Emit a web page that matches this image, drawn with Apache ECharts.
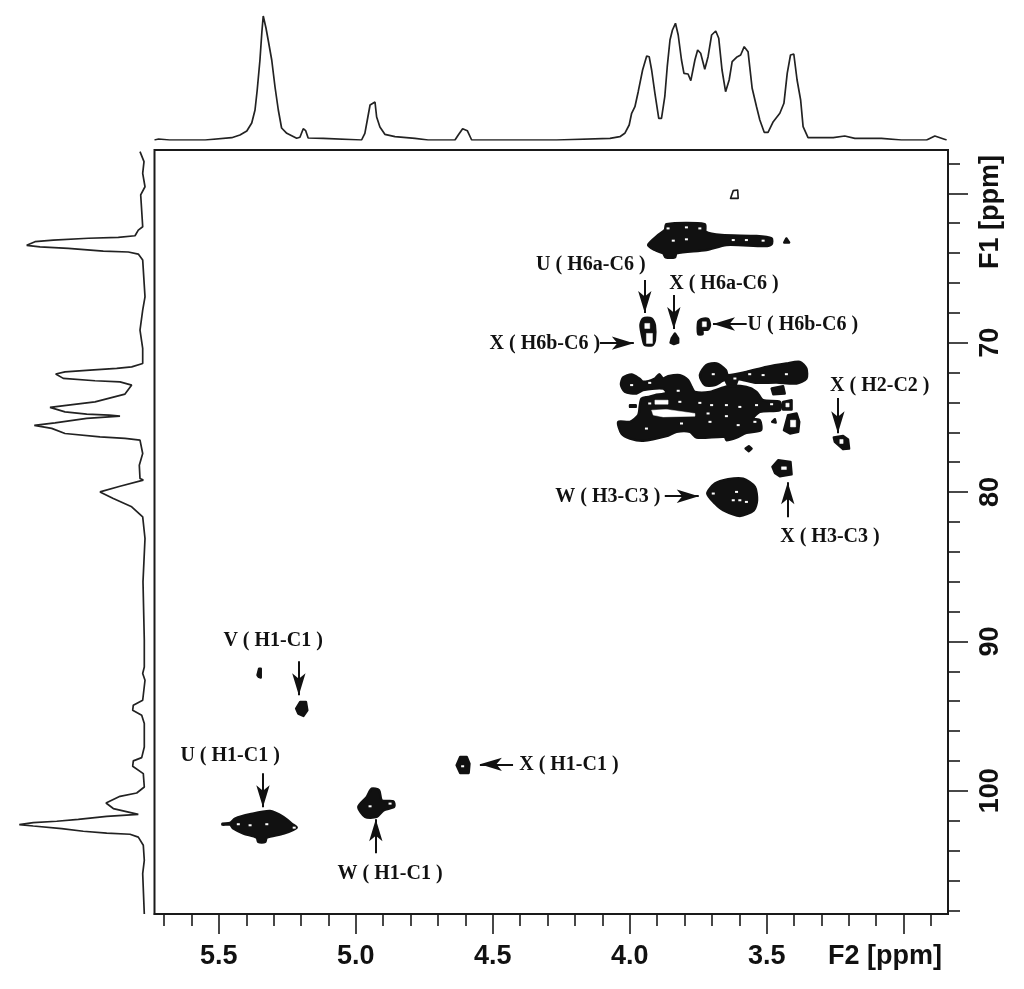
<!DOCTYPE html>
<html>
<head>
<meta charset="utf-8">
<style>html,body{margin:0;padding:0;background:#fff}#chart{width:1024px;height:989px}</style>
<script src="https://cdn.jsdelivr.net/npm/echarts@6/dist/echarts.min.js"></script>
</head>
<body>
<div id="chart"></div>
<script>
// axis ranges and ticks, ppm
const F2_RANGE = [2.838, 5.735];
const F1_RANGE = [57.1, 108.25];
const f2MajorTicks = [5.5, 5.0, 4.5, 4.0, 3.5, 3.0];
const f2MinorTicks = [5.7, 5.6, 5.4, 5.3, 5.2, 5.1, 4.9, 4.8, 4.7, 4.6, 4.4, 4.3, 4.2, 4.1, 3.9, 3.8, 3.7, 3.6, 3.4, 3.3, 3.2, 3.1, 2.9];
const f2Labels = [5.5, 5.0, 4.5, 4.0, 3.5];
const f1MajorTicks = [60, 70, 80, 90, 100];
const f1MinorTicks = [58, 62, 64, 66, 68, 72, 74, 76, 78, 82, 84, 86, 88, 92, 94, 96, 98, 102, 104, 106, 108];
const f1Labels = [70, 80, 90, 100];

// projection along F2 (top trace)
const topPpm = [5.735, 5.72, 5.68, 5.60, 5.597, 5.55, 5.453, 5.423, 5.398, 5.380, 5.368, 5.360, 5.350, 5.343, 5.338, 5.331, 5.328, 5.320, 5.307, 5.295, 5.283, 5.271, 5.252, 5.216, 5.204, 5.192, 5.183, 5.174, 5.119, 5.113, 4.979, 4.967, 4.958, 4.948, 4.930, 4.924, 4.912, 4.894, 4.857, 4.784, 4.736, 4.638, 4.626, 4.610, 4.593, 4.577, 4.449, 4.267, 4.072, 4.036, 4.018, 4.002, 3.993, 3.981, 3.969, 3.953, 3.938, 3.929, 3.920, 3.908, 3.894, 3.884, 3.872, 3.863, 3.853, 3.844, 3.833, 3.823, 3.811, 3.802, 3.787, 3.777, 3.762, 3.752, 3.741, 3.726, 3.714, 3.701, 3.686, 3.675, 3.663, 3.650, 3.637, 3.626, 3.610, 3.595, 3.582, 3.568, 3.553, 3.537, 3.525, 3.509, 3.495, 3.476, 3.452, 3.437, 3.425, 3.413, 3.401, 3.389, 3.376, 3.367, 3.349, 3.257, 3.251, 3.215, 3.178, 3.081, 3.008, 2.916, 2.886, 2.843];
const topHeight = [0, 1, 0, 0, 1, 0, 2.3, 5, 9, 17, 30, 50, 80, 108, 124, 124, 112, 100, 80, 53, 30, 12, 6.7, 1.7, 2.7, 11.3, 9.3, 2, 1.7, 0, 0, 6.7, 20, 35, 38, 23, 13, 5.7, 3.3, 1.7, 0, 0, 5, 11.3, 9.3, 0, 0, 0, 1.7, 3.3, 6.7, 15, 26.7, 33.3, 48.3, 70, 84, 83.3, 70, 46.7, 21.7, 21.7, 43.3, 73.3, 100, 110, 116.7, 105, 80, 66.7, 66, 59.3, 80, 90, 86.7, 70.7, 83.3, 105, 109, 101.7, 70, 48.3, 60, 78.3, 82.7, 85, 93.3, 88.3, 51.7, 33.3, 20, 7.7, 7.7, 18.3, 26.7, 36.7, 66.7, 85, 86, 60, 40, 13.3, 2.3, 2.3, 4, 4, 1.7, 1.7, 0, 0, 4, 0];

// projection along F1 (left trace)
const leftPpm = [57.21, 57.88, 58.66, 59.56, 60.11, 62.24, 62.46, 62.84, 62.95, 63.01, 63.13, 63.24, 63.48, 63.58, 63.68, 63.87, 63.93, 64.07, 64.47, 66.93, 67.82, 69.16, 70.38, 71.39, 71.62, 71.72, 71.84, 71.95, 72.10, 72.39, 72.55, 72.62, 72.84, 73.44, 73.96, 74.18, 74.33, 74.63, 74.78, 74.85, 74.92, 75.07, 75.37, 75.54, 75.74, 76.08, 76.30, 76.41, 76.52, 77.42, 78.20, 79.09, 79.20, 79.61, 79.99, 80.43, 80.99, 81.66, 83.11, 86.0, 89.92, 91.71, 92.15, 92.60, 93.94, 94.27, 94.61, 94.94, 95.50, 97.07, 97.78, 98.00, 98.36, 98.85, 99.75, 100.15, 100.37, 100.82, 101.19, 101.58, 101.71, 101.91, 102.04, 102.13, 102.27, 102.36, 102.53, 102.71, 102.83, 102.91, 103.10, 103.65, 104.66, 105.55, 108.25];
const leftHeight = [6, 2, 3.3, 1, 5.3, 3.3, 7.7, 11, 27.7, 57.7, 92.7, 111, 119.3, 106, 77.7, 42.7, 17.7, 7.7, 3.3, 1, 3.3, 6, 3.3, 3.3, 14.3, 29.3, 56, 81, 90.3, 82.7, 51, 26, 14.3, 21, 51, 77.7, 96, 81, 59.3, 36.7, 26, 59.3, 91, 111.7, 94.3, 81, 46, 21, 6, 3.3, 6.7, 6, 2.7, 26, 46, 32.7, 14.3, 3.3, 1, 3, 1.7, 1.7, 3.3, 1, 3.3, 12.7, 13.3, 4.3, 1.7, 1.7, 4.3, 12.7, 13.3, 2.7, 1.7, 9.3, 26, 40, 32.7, 7.7, 39.3, 67.7, 89.3, 112.7, 126.7, 112.7, 84.3, 62.7, 39.3, 16, 7.7, 2.7, 1.7, 3.3, 1.7];

// contour outlines [F2, F1]
const c6Main = [[3.933,63.46],[3.896,62.79],[3.872,62.46],[3.866,62.06],[3.726,62.06],[3.722,62.57],[3.665,62.79],[3.537,62.86],[3.482,63.02],[3.482,63.40],[3.507,63.53],[3.647,63.46],[3.720,63.80],[3.829,64.02],[3.835,64.29],[3.869,64.29],[3.878,64.02],[3.908,63.80]];
const c6Tick = [[3.436,63.29],[3.428,63.02],[3.418,63.29]];
const uH6a = [[3.961,68.82],[3.951,68.38],[3.920,68.38],[3.908,68.82],[3.908,69.83],[3.917,70.16],[3.945,70.16],[3.953,69.71]];
const xH6a = [[3.851,70.0],[3.847,69.72],[3.835,69.38],[3.823,69.72],[3.823,70.0],[3.839,70.09]];
const uH6b = [[3.750,68.60],[3.738,68.42],[3.714,68.42],[3.707,68.82],[3.714,69.11],[3.734,69.16],[3.734,69.42],[3.750,69.42]];
const ringCluster = [[4.032,72.80],[4.024,72.33],[3.993,72.13],[3.965,72.40],[3.951,72.62],[3.908,72.40],[3.892,72.11],[3.878,72.40],[3.860,72.24],[3.817,72.17],[3.787,72.51],[3.774,72.96],[3.762,73.29],[3.707,73.29],[3.641,72.91],[3.574,72.96],[3.537,73.29],[3.513,73.85],[3.452,73.96],[3.452,74.52],[3.525,74.63],[3.549,75.08],[3.525,75.19],[3.521,75.86],[3.574,76.04],[3.610,76.35],[3.647,76.53],[3.653,76.30],[3.756,76.35],[3.780,75.97],[3.829,75.97],[3.866,76.26],[3.951,76.57],[3.999,76.42],[4.030,76.08],[4.042,75.30],[3.999,75.30],[3.969,74.85],[3.963,74.18],[3.957,73.74],[3.933,73.63],[3.908,73.51],[3.866,73.36],[3.878,73.07],[3.951,73.18],[3.975,73.40],[4.018,73.29]];
const ringBit = [[3.999,74.18],[3.978,74.18],[3.978,74.30],[3.999,74.30]];
const ringTopRight = [[3.744,72.17],[3.720,71.50],[3.683,71.39],[3.649,71.84],[3.641,72.17],[3.574,71.95],[3.501,71.62],[3.428,71.39],[3.379,71.28],[3.355,71.73],[3.355,72.40],[3.391,72.73],[3.464,72.67],[3.537,72.69],[3.574,72.55],[3.604,72.46],[3.616,72.91],[3.641,72.84],[3.653,72.51],[3.689,72.84],[3.726,72.84]];
const ringSmall = [[3.482,73.07],[3.440,72.91],[3.434,73.40],[3.476,73.45]];
const ringRightBit = [[3.440,73.96],[3.409,73.85],[3.409,74.47],[3.440,74.47]];
const ringRight = [[3.437,75.86],[3.422,74.85],[3.391,74.74],[3.381,75.30],[3.385,75.97],[3.415,76.08]];
const ringTinyA = [[3.480,75.30],[3.470,75.12],[3.467,75.35]];
const ringTinyB = [[3.577,77.09],[3.565,76.93],[3.555,77.09],[3.565,77.27]];
const xH2 = [[3.255,76.35],[3.221,76.24],[3.203,76.48],[3.199,77.09],[3.221,77.13],[3.251,76.64]];
const xH3 = [[3.479,78.31],[3.458,77.87],[3.413,77.98],[3.409,78.81],[3.452,78.94],[3.470,78.72]];
const wH3 = [[3.717,80.10],[3.689,79.43],[3.641,79.14],[3.586,79.10],[3.543,79.65],[3.535,80.55],[3.547,81.22],[3.598,81.60],[3.659,81.22],[3.689,80.77]];
const vSmall = [[5.359,92.26],[5.353,91.82],[5.347,91.82],[5.347,92.42],[5.354,92.38]];
const vH1 = [[5.218,94.50],[5.203,94.05],[5.182,94.05],[5.177,94.61],[5.191,94.99],[5.210,94.83]];
const uH1 = [[5.487,102.20],[5.459,102.15],[5.441,101.86],[5.386,101.57],[5.313,101.35],[5.264,101.75],[5.234,102.20],[5.216,102.47],[5.264,102.87],[5.325,103.14],[5.331,103.43],[5.356,103.43],[5.362,103.14],[5.410,102.87],[5.447,102.53],[5.459,102.27],[5.487,102.27]];
const wH1 = [[4.991,101.08],[4.960,100.41],[4.942,99.86],[4.915,99.97],[4.905,100.64],[4.863,100.70],[4.860,101.08],[4.899,101.31],[4.924,101.75],[4.966,101.75]];
const xH1 = [[4.632,98.29],[4.619,97.73],[4.595,97.73],[4.585,98.18],[4.588,98.81],[4.619,98.81]];
const openPeak = [[3.632,60.34],[3.622,59.82],[3.606,59.78],[3.604,60.34]];

// white gaps inside the contours
const gapUH6aTop = [[3.945,68.71],[3.927,68.71],[3.927,69.05],[3.945,69.05]];
const gapUH6aLow = [[3.939,69.38],[3.917,69.38],[3.917,70.05],[3.939,70.05]];
const gapUH6b = [[3.735,68.60],[3.720,68.60],[3.720,68.93],[3.735,68.93]];
const gapBandA = [[3.908,73.85],[3.860,73.85],[3.860,74.12],[3.908,74.12]];
const gapBandB = [[3.920,74.52],[3.866,74.47],[3.762,74.74],[3.762,74.92],[3.878,74.97],[3.914,74.85]];
const gapRight = [[3.413,75.19],[3.394,75.19],[3.394,75.64],[3.413,75.64]];
const gapXH2 = [[3.233,76.48],[3.221,76.48],[3.221,76.75],[3.233,76.75]];
const gapXH3 = [[3.446,78.31],[3.428,78.31],[3.428,78.49],[3.446,78.49]];
const gapRightBit = [[3.430,74.05],[3.418,74.05],[3.418,74.30],[3.430,74.30]];

const speckF2 = [3.993, 3.695, 3.616, 3.562, 3.513, 3.428, 3.927, 3.823, 3.927, 3.817, 3.744, 3.701, 3.647, 3.598, 3.537, 3.482, 3.714, 3.939, 3.811, 3.707, 3.647, 3.604, 3.543, 3.610, 3.598, 3.574, 3.622, 3.695, 3.860, 3.793, 3.744, 3.841, 3.793, 3.622, 3.574, 3.513, 5.429, 5.386, 5.325, 5.225, 4.948, 4.875, 4.610];
const speckF1 = [72.84, 72.11, 72.40, 72.11, 72.17, 72.11, 72.69, 73.22, 74.07, 73.96, 74.03, 74.18, 74.18, 74.30, 74.18, 74.12, 74.74, 75.75, 75.41, 75.30, 74.92, 75.52, 75.30, 79.99, 80.55, 80.66, 80.55, 80.10, 62.35, 62.28, 62.35, 63.17, 63.08, 63.13, 63.13, 63.17, 102.24, 102.31, 102.24, 102.47, 101.04, 100.86, 98.36];

// annotations
const labelTexts = ["U ( H6a-C6 )", "X ( H6a-C6 )", "U ( H6b-C6 )", "X ( H6b-C6 )", "X ( H2-C2 )", "W ( H3-C3 )", "X ( H3-C3 )", "V ( H1-C1 )", "U ( H1-C1 )", "W ( H1-C1 )", "X ( H1-C1 )"];
const labelF2 = [4.142, 3.656, 3.368, 4.310, 3.087, 4.080, 3.269, 5.302, 5.459, 4.875, 4.222];
const labelF1 = [64.80, 66.07, 68.81, 70.09, 72.90, 80.34, 83.01, 89.98, 97.68, 105.59, 98.29];
// arrows, [fromF2, fromF1, toF2, toF1]
const arrows = [
  [3.945, 65.81, 3.945, 68.02],
  [3.839, 66.81, 3.839, 69.09],
  [3.573, 68.75, 3.696, 68.75],
  [4.109, 70.03, 3.985, 70.03],
  [3.240, 73.71, 3.240, 76.06],
  [3.423, 81.68, 3.423, 79.34],
  [3.872, 80.28, 3.748, 80.28],
  [5.208, 91.33, 5.208, 93.60],
  [5.339, 98.83, 5.339, 101.11],
  [4.927, 104.19, 4.927, 101.91],
  [4.426, 98.23, 4.547, 98.23],
];

const INK = "#1a1a1a";
const AXIS_FONT = { fontFamily: "Liberation Sans", fontWeight: "bold", fontSize: 27, color: "#111" };

const inkContours = [c6Main, c6Tick, uH6a, xH6a, uH6b, ringCluster, ringBit, ringTopRight, ringSmall, ringRightBit, ringRight, ringTinyA, ringTinyB, xH2, xH3, wH3, vSmall, vH1, uH1, wH1, xH1];
const gapContours = [gapUH6aTop, gapUH6aLow, gapUH6b, gapBandA, gapBandB, gapRight, gapXH2, gapXH3, gapRightBit];

function contourSeries(contours, fill, stroke, width, z) {
  return {
    type: "custom",
    xAxisIndex: 0,
    yAxisIndex: 0,
    z: z,
    silent: true,
    data: contours.map((c, i) => [c[0][0], c[0][1], i]),
    encode: { x: 0, y: 1 },
    renderItem(params, api) {
      const pts = contours[api.value(2)].map((p) => api.coord(p));
      return {
        type: "polygon",
        shape: { points: pts, smooth: pts.length > 7 ? 0.25 : 0 },
        style: { fill: fill, stroke: stroke, lineWidth: width, lineJoin: "round" },
      };
    },
  };
}

const option = {
  animation: false,
  backgroundColor: "#fff",
  grid: [
    { left: 154.5, right: 76, top: 150, bottom: 75, show: true, borderColor: "#1a1a1a", borderWidth: 2 },
    { left: 154.5, right: 76, top: 10, height: 130 },
    { left: 16, width: 130, top: 150, bottom: 75 },
  ],
  xAxis: [
    {
      type: "value", gridIndex: 0, inverse: true, min: F2_RANGE[0], max: F2_RANGE[1], position: "bottom",
      splitLine: { show: false },
      axisLine: { show: true, onZero: false, lineStyle: { color: INK, width: 2 } },
      axisTick: { show: true, length: 20, lineStyle: { color: INK, width: 1.6 }, customValues: f2MajorTicks },
      axisLabel: { show: true, margin: 29, ...AXIS_FONT, customValues: f2Labels, formatter: (v) => v.toFixed(1) },
    },
    {
      type: "value", gridIndex: 0, inverse: true, min: F2_RANGE[0], max: F2_RANGE[1], position: "bottom",
      splitLine: { show: false },
      axisLine: { show: false, onZero: false },
      axisTick: { show: true, length: 12, lineStyle: { color: INK, width: 1.6 }, customValues: f2MinorTicks },
      axisLabel: { show: false },
    },
    { type: "value", gridIndex: 1, inverse: true, min: F2_RANGE[0], max: F2_RANGE[1], show: false },
    { type: "value", gridIndex: 2, inverse: true, min: 0, max: 130, show: false },
  ],
  yAxis: [
    {
      type: "value", gridIndex: 0, inverse: true, min: F1_RANGE[0], max: F1_RANGE[1], position: "right",
      splitLine: { show: false },
      axisLine: { show: true, onZero: false, lineStyle: { color: INK, width: 2 } },
      axisTick: { show: true, length: 20, lineStyle: { color: INK, width: 1.6 }, customValues: f1MajorTicks },
      axisLabel: { show: true, margin: 29, rotate: 90, ...AXIS_FONT, customValues: f1Labels },
    },
    {
      type: "value", gridIndex: 0, inverse: true, min: F1_RANGE[0], max: F1_RANGE[1], position: "right",
      splitLine: { show: false },
      axisLine: { show: false, onZero: false },
      axisTick: { show: true, length: 12, lineStyle: { color: INK, width: 1.6 }, customValues: f1MinorTicks },
      axisLabel: { show: false },
    },
    { type: "value", gridIndex: 1, min: 0, max: 130, show: false },
    { type: "value", gridIndex: 2, inverse: true, min: F1_RANGE[0], max: F1_RANGE[1], show: false },
  ],
  graphic: [
    { type: "text", left: 828, top: 943, style: { text: "F2 [ppm]", font: "bold 27px 'Liberation Sans'", fill: "#111" } },
    { type: "text", rotation: Math.PI / 2, x: 977, y: 269, style: { text: "F1 [ppm]", font: "bold 27px 'Liberation Sans'", fill: "#111" } },
  ],
  series: [
    {
      type: "line", xAxisIndex: 2, yAxisIndex: 2, symbol: "none", silent: true,
      lineStyle: { color: "#222", width: 1.7 },
      data: topPpm.map((p, i) => [p, topHeight[i]]),
    },
    {
      type: "line", xAxisIndex: 3, yAxisIndex: 3, symbol: "none", silent: true,
      lineStyle: { color: "#222", width: 1.7 },
      data: leftPpm.map((p, i) => [leftHeight[i], p]),
    },
    contourSeries([openPeak], "#fff", "#1a1a1a", 1.6, 3),
    contourSeries(inkContours, "#111", "#111", 2.4, 4),
    contourSeries(gapContours, "#fff", "#fff", 0.5, 5),
    {
      type: "scatter", xAxisIndex: 0, yAxisIndex: 0, z: 6, silent: true,
      symbol: "rect", symbolSize: [3, 2],
      itemStyle: { color: "#fff", opacity: 1 },
      data: speckF2.map((p, i) => [p, speckF1[i]]),
    },
    {
      type: "scatter", xAxisIndex: 0, yAxisIndex: 0, z: 7, silent: true,
      symbolSize: 0,
      itemStyle: { opacity: 1 },
      label: {
        show: true, position: "inside", formatter: (p) => p.name, opacity: 1,
        fontFamily: "Liberation Serif", fontWeight: "bold", fontSize: 20, color: "#111",
      },
      data: labelTexts.map((t, i) => ({ name: t, value: [labelF2[i], labelF1[i]] })),
      markLine: {
        silent: true,
        symbol: ["none", "arrow"],
        symbolSize: [10, 22],
        animation: false,
        label: { show: false },
        lineStyle: { color: "#111", width: 2, type: "solid", opacity: 1 },
        data: arrows.map((a) => [{ coord: [a[0], a[1]] }, { coord: [a[2], a[3]] }]),
      },
    },
  ],
};

const chart = echarts.init(document.getElementById("chart"), null, { renderer: "canvas" });
chart.setOption(option);
</script>
</body>
</html>
